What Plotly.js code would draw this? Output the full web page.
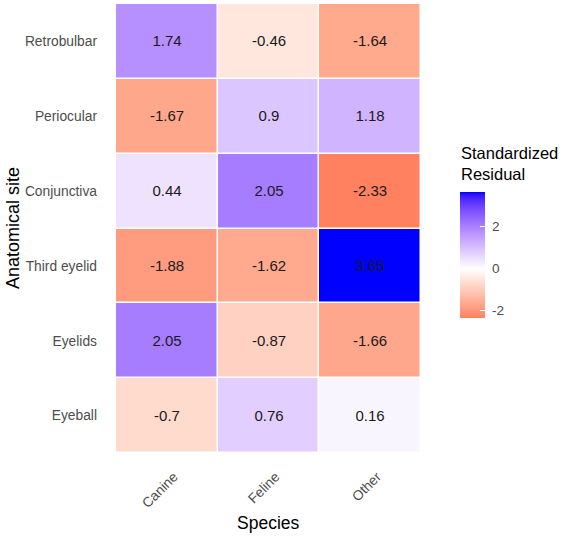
<!DOCTYPE html>
<html>
<head>
<meta charset="utf-8">
<script src="https://cdn.plot.ly/plotly-3.0.1.min.js"></script>
<style>html,body{margin:0;padding:0;background:#fff;}#chart{width:567px;height:539px;}</style>
</head>
<body>
<div id="chart"></div>
<script>
// ---- data ----
var species = ["Canine", "Feline", "Other"];
var sites = ["Eyeball", "Eyelids", "Third eyelid", "Conjunctiva", "Periocular", "Retrobulbar"];
var eyeball     = [-0.7, 0.76, 0.16];
var eyelids     = [2.05, -0.87, -1.66];
var thirdEyelid = [-1.88, -1.62, 3.65];
var conjunctiva = [0.44, 2.05, -2.33];
var periocular  = [-1.67, 0.9, 1.18];
var retrobulbar = [1.74, -0.46, -1.64];
var colorTicks = [-2, 0, 2];

var z = [eyeball, eyelids, thirdEyelid, conjunctiva, periocular, retrobulbar];
var txt = z.map(function(r){ return r.map(function(v){ return String(v); }); });

// ---- colour scale (ggplot2 gradient2 style, Lab interpolation) ----
function s2l(c){ c/=255; return c<=0.04045? c/12.92 : Math.pow((c+0.055)/1.055,2.4); }
function l2s(c){ c = Math.max(0,Math.min(1,c)); return c<=0.0031308? 12.92*c : 1.055*Math.pow(c,1/2.4)-0.055; }
function toLab(rgb){
  var r=s2l(rgb[0]), g=s2l(rgb[1]), b=s2l(rgb[2]);
  var X=(0.4124*r+0.3576*g+0.1805*b)/0.95047, Y=0.2126*r+0.7152*g+0.0722*b, Z=(0.0193*r+0.1192*g+0.9505*b)/1.08883;
  function f(t){ return t>0.008856? Math.cbrt(t) : 7.787*t+16/116; }
  var fx=f(X), fy=f(Y), fz=f(Z);
  return [116*fy-16, 500*(fx-fy), 200*(fy-fz)];
}
function fromLab(lab){
  var fy=(lab[0]+16)/116, fx=fy+lab[1]/500, fz=fy-lab[2]/200;
  function fi(t){ return t>0.206893? t*t*t : (t-16/116)/7.787; }
  var X=fi(fx)*0.95047, Y=fi(fy), Z=fi(fz)*1.08883;
  var r= 3.2406*X-1.5372*Y-0.4986*Z, g=-0.9689*X+1.8758*Y+0.0415*Z, b=0.0557*X-0.2040*Y+1.0570*Z;
  return 'rgb('+Math.round(l2s(r)*255)+','+Math.round(l2s(g)*255)+','+Math.round(l2s(b)*255)+')';
}
var labW=toLab([255,255,255]), labR=toLab([255,0,0]), labB=toLab([0,0,255]);
function mix(a,b,t){ return [a[0]+(b[0]-a[0])*t, a[1]+(b[1]-a[1])*t, a[2]+(b[2]-a[2])*t]; }
var all = [].concat.apply([], z);
var zmin = Math.min.apply(null, all), zmax = Math.max.apply(null, all);
var m = Math.max(Math.abs(zmin), Math.abs(zmax));
var cs = [];
var N = 60;
for (var i=0;i<=N;i++){
  var v = zmin + (zmax-zmin)*i/N;
  var col = v<0 ? fromLab(mix(labW,labR,-v/m)) : fromLab(mix(labW,labB,v/m));
  cs.push([i/N, col]);
}
var p0 = (0-zmin)/(zmax-zmin);
cs.push([p0, 'rgb(255,255,255)']);
cs.sort(function(a,b){return a[0]-b[0];});

var W=567, H=539;
var trace = {
  type: 'heatmap',
  x: species, y: sites, z: z,
  text: txt, texttemplate: '%{text}',
  textfont: {family: 'Liberation Sans, Arial, sans-serif', size: 15, color: '#1a1a1a'},
  colorscale: cs, zmin: zmin, zmax: zmax,
  xgap: 1.5, ygap: 1.5,
  hoverinfo: 'skip',
  colorbar: {
    xref: 'container', yref: 'container',
    x: 460/W, xanchor: 'left', xpad: 0,
    y: 1-230/H, yanchor: 'top', ypad: 0,
    len: 126, lenmode: 'pixels', thickness: 25, thicknessmode: 'pixels',
    outlinewidth: 0,
    tickvals: colorTicks, ticktext: colorTicks.map(function(t){ return '\u00a0' + t; }),
    ticks: 'inside', ticklen: 5, tickcolor: '#ffffff', tickwidth: 1,
    tickfont: {family: 'Liberation Sans, Arial, sans-serif', size: 13.5, color: '#4d4d4d'},
    title: {text: ''}
  }
};

var layout = {
  width: W, height: H,
  margin: {l: 116, r: 146, t: 4, b: 86},
  paper_bgcolor: '#ffffff', plot_bgcolor: '#ffffff',
  font: {family: 'Liberation Sans, Arial, sans-serif'},
  xaxis: {
    type: 'category', categoryorder: 'array', categoryarray: species,
    showgrid: false, zeroline: false, showline: false,
    ticks: '', tickangle: -45, ticklabelstandoff: 12, ticklabelshift: 7,
    tickfont: {size: 13.8, color: '#4d4d4d'}
  },
  yaxis: {
    type: 'category', categoryorder: 'array', categoryarray: sites,
    showgrid: false, zeroline: false, showline: false,
    ticks: '', ticklabelstandoff: 18,
    tickfont: {size: 13.8, color: '#4d4d4d'}
  },
  annotations: [
    {text: 'Species', xref: 'paper', yref: 'paper', x: 0.5, y: (H-86-523)/(H-90), xanchor: 'center', yanchor: 'middle',
     showarrow: false, font: {size: 17.5, color: '#000000'}},
    {text: 'Anatomical site', xref: 'paper', yref: 'paper', x: (12.5-116)/305, y: 0.5, xanchor: 'center', yanchor: 'middle',
     textangle: -90, showarrow: false, font: {size: 18, color: '#000000'}},
    {text: 'Standardized<br>Residual', xref: 'paper', yref: 'paper', x: (459-116)/305, y: (H-86-142)/(H-90),
     xanchor: 'left', yanchor: 'top', align: 'left', showarrow: false, font: {size: 16.5, color: '#000000'}}
  ]
};

Plotly.newPlot('chart', [trace], layout, {displayModeBar: false, staticPlot: true});
</script>
</body>
</html>
